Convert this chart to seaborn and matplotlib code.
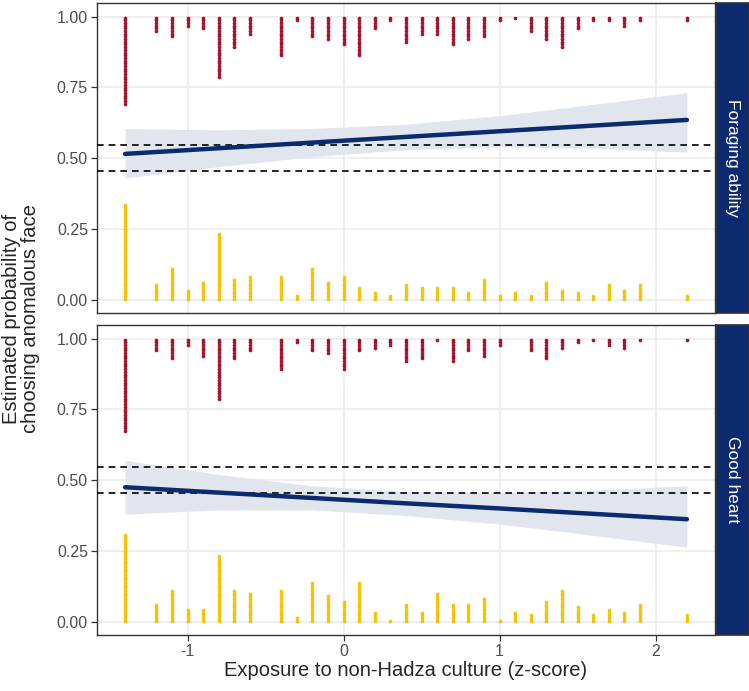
import numpy as np
import pandas as pd
import seaborn as sns
import matplotlib.pyplot as plt

# x positions (exposure z-score) of the dot stacks
exposure = [-1.4, -1.2, -1.1, -1.0, -0.9, -0.8, -0.7, -0.6, -0.4, -0.3, -0.2,
            -0.1, 0.0, 0.1, 0.2, 0.3, 0.4, 0.5, 0.6, 0.7, 0.8, 0.9, 1.0, 1.1,
            1.2, 1.3, 1.4, 1.5, 1.6, 1.7, 1.8, 1.9, 2.2]

# number of dots per stack (anomalous chosen = top, not chosen = bottom)
forage_top = [33, 6, 8, 4, 5, 23, 12, 7, 15, 2, 8, 9, 11, 15, 5, 2, 10,
              7, 7, 11, 9, 8, 2, 1, 6, 9, 12, 5, 2, 2, 4, 2, 2]
forage_bot = [36, 6, 12, 4, 7, 25, 8, 9, 9, 2, 12, 7, 9, 5, 3, 2, 6,
              5, 5, 5, 3, 8, 2, 3, 2, 7, 4, 3, 2, 6, 4, 6, 2]
heart_top = [35, 5, 8, 3, 7, 23, 8, 5, 12, 2, 5, 6, 12, 5, 4, 3, 9,
             8, 1, 9, 5, 7, 3, 0, 5, 8, 4, 2, 1, 3, 4, 1, 1]
heart_bot = [33, 7, 12, 5, 5, 25, 12, 11, 12, 2, 15, 10, 8, 15, 4, 1, 7,
             4, 11, 7, 7, 9, 1, 4, 3, 8, 12, 6, 3, 5, 4, 7, 3]

# fitted line and 95% band
fit_x = [-1.4, -0.8, -0.2, 0.4, 1.0, 1.6, 2.2]
forage_fit = [0.515, 0.535, 0.555, 0.575, 0.595, 0.615, 0.635]
forage_lo = [0.430, 0.470, 0.505, 0.530, 0.540, 0.535, 0.521]
forage_hi = [0.604, 0.600, 0.605, 0.620, 0.650, 0.690, 0.731]
heart_fit = [0.475, 0.456, 0.437, 0.418, 0.400, 0.381, 0.362]
heart_lo = [0.380, 0.395, 0.395, 0.375, 0.345, 0.305, 0.263]
heart_hi = [0.570, 0.520, 0.480, 0.460, 0.455, 0.465, 0.480]

chance_lines = [0.455, 0.545]
panel_names = ['Foraging ability', 'Good heart']

red = '#A6112E'
gold = '#F6C300'
navy = '#0B2A6F'
band = '#E1E6EE'
pitch = 0.0095

sns.set_theme(style='white')
plt.rcParams['font.family'] = ['Liberation Sans', 'DejaVu Sans']

W, H = 749, 691
fig = plt.figure(figsize=(W / 100, H / 100), dpi=100)


def dots(counts, top):
    rows = []
    for x, n in zip(exposure, counts):
        for i in range(n):
            y = 1 - 0.0035 - i * pitch if top else 0.0035 + i * pitch
            rows.append((x, y))
    return pd.DataFrame(rows, columns=['x', 'y'])


panels = [
    (3, 313, forage_top, forage_bot, forage_fit, forage_lo, forage_hi),
    (325, 635, heart_top, heart_bot, heart_fit, heart_lo, heart_hi),
]

for k, (t, b, ctop, cbot, fit, lo, hi) in enumerate(panels):
    ax = fig.add_axes([97 / W, 1 - b / H, (715 - 97) / W, (b - t) / H])
    ax.set_facecolor('white')
    ax.grid(True, color='#EBEBEB', lw=1.1)
    ax.set_axisbelow(True)

    sns.scatterplot(data=dots(ctop, True), x='x', y='y', color=red, s=7,
                    linewidth=0, ax=ax, zorder=3)
    sns.scatterplot(data=dots(cbot, False), x='x', y='y', color=gold, s=7,
                    linewidth=0, ax=ax, zorder=3)

    ax.fill_between(fit_x, lo, hi, color=band, lw=0, zorder=2)
    for c in chance_lines:
        ax.axhline(c, color='black', lw=1.2, ls=(0, (4, 3)), zorder=4)
    fit_df = pd.DataFrame({'x': fit_x, 'y': fit})
    sns.lineplot(data=fit_df, x='x', y='y', color=navy, lw=3.2, ax=ax, zorder=5)

    ax.set_xlim(-1.58, 2.38)
    ax.set_ylim(-0.047, 1.048)
    ax.set_yticks([0, 0.25, 0.5, 0.75, 1.0])
    ax.set_yticklabels(['0.00', '0.25', '0.50', '0.75', '1.00'])
    ax.set_xticks([-1, 0, 1, 2])
    ax.set_xlabel('')
    ax.set_ylabel('')
    for s in ax.spines.values():
        s.set_color('#333333')
        s.set_linewidth(1.0)
    ax.tick_params(axis='both', length=4, width=0.9, color='#333333',
                   labelsize=11.5, labelcolor='#4D4D4D', pad=2.5, left=True,
                   bottom=True)
    if k == 0:
        ax.set_xticklabels([])
        ax.tick_params(axis='x', length=0)
    else:
        ax.set_xticklabels(['-1', '0', '1', '2'])

    sax = fig.add_axes([716 / W, 1 - b / H, (749 - 716) / W, (b - t) / H])
    sax.set_facecolor(navy)
    sax.set_xticks([])
    sax.set_yticks([])
    for s in sax.spines.values():
        s.set_color('#333333')
    sax.text(0.5, 0.5, panel_names[k], rotation=-90, color='white',
             fontsize=12.5, ha='center', va='center', transform=sax.transAxes)

fig.text(21 / W, 1 - 319 / H, 'Estimated probability of\nchoosing anomalous face',
         rotation=90, ha='center', va='center', fontsize=14.5,
         linespacing=1.05)
fig.text((97 + 715) / 2 / W, 1 - 670 / H,
         'Exposure to non-Hadza culture (z-score)', ha='center',
         va='center', fontsize=14.5)

fig.savefig('out.png', dpi=100)
